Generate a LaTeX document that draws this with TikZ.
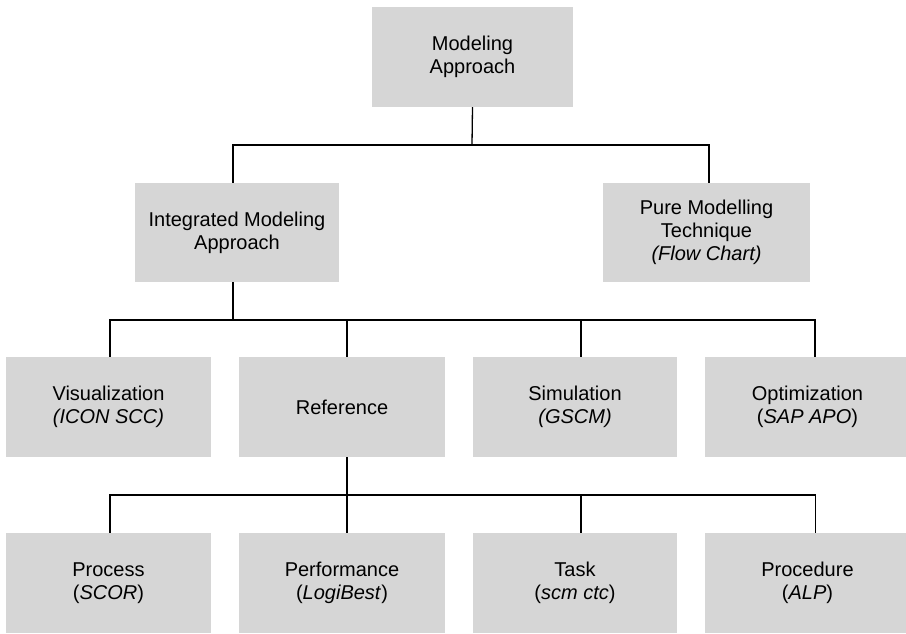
\documentclass[tikz,border=0pt]{standalone}
\usepackage{fontspec}
\setmainfont{Liberation Sans}
\begin{document}
\begin{tikzpicture}[x=1pt,y=-1pt,
  box/.style={fill=black!16, draw=none, align=center, inner sep=0pt,
    font=\fontsize{20}{23}\selectfont, text=black},
  link/.style={draw=black, line width=1.3pt}]
\useasboundingbox (0,0) rectangle (906,633);
% level 0
\node[box, minimum width=201pt, minimum height=100pt] (top) at (472.5,57) {Modeling\\Approach};
% level 1
\node[box, minimum width=204pt, minimum height=99pt] (integ) at (237,232.5) {Integrated Modeling\\Approach};
\node[box, minimum width=207pt, minimum height=99pt] (pure) at (706.5,232.5) {Pure Modelling\\Technique\\\textit{(Flow Chart)}};
% level 2
\node[box, minimum width=205pt, minimum height=100pt] (vis) at (108.5,407) {Visualization\\\textit{(ICON SCC)}};
\node[box, minimum width=206pt, minimum height=100pt] (ref) at (342,407) {Reference};
\node[box, minimum width=204pt, minimum height=100pt] (sim) at (575,407) {Simulation\\\textit{(GSCM)}};
\node[box, minimum width=205pt, minimum height=100pt] (opt) at (807.5,407) {Optimization\\(\textit{SAP APO})};
% level 3
\node[box, minimum width=205pt, minimum height=100pt] (proc) at (108.5,583) {Process\\(\textit{SCOR})};
\node[box, minimum width=206pt, minimum height=100pt] (perf) at (342,583) {Performance\\(\textit{LogiBest})};
\node[box, minimum width=204pt, minimum height=100pt] (task) at (575,583) {Task\\(\textit{scm ctc})};
\node[box, minimum width=205pt, minimum height=100pt] (pced) at (807.5,583) {Procedure\\(\textit{ALP})};
% bus coordinates
\coordinate (b1) at (472,145);
\coordinate (b2) at (233,320);
\coordinate (b3) at (347,495);
% level 0 -> 1
\draw[link] (top.south) -- (b1);
\draw[link] ([xshift=-4pt]integ.north) -- ([xshift=-4pt]integ.north |- b1) -- ([xshift=2.5pt]pure.north |- b1) -- ([xshift=2.5pt]pure.north);
% level 1 -> 2
\draw[link] ([xshift=-4pt]integ.south) -- (b2);
\draw[link] ([xshift=1.5pt]vis.north) -- ([xshift=1.5pt]vis.north |- b2) -- ([xshift=7.5pt]opt.north |- b2) -- ([xshift=7.5pt]opt.north);
\draw[link] ([xshift=5pt]ref.north) -- ([xshift=5pt]ref.north |- b2);
\draw[link] ([xshift=6pt]sim.north) -- ([xshift=6pt]sim.north |- b2);
% level 2 -> 3
\draw[link] ([xshift=5pt]ref.south) -- (b3);
\draw[link] ([xshift=1.5pt]proc.north) -- ([xshift=1.5pt]proc.north |- b3) -- ([xshift=8pt]pced.north |- b3) -- ([xshift=8pt]pced.north);
\draw[link] ([xshift=5pt]perf.north) -- ([xshift=5pt]perf.north |- b3);
\draw[link] ([xshift=6pt]task.north) -- ([xshift=6pt]task.north |- b3);
\end{tikzpicture}
\end{document}
